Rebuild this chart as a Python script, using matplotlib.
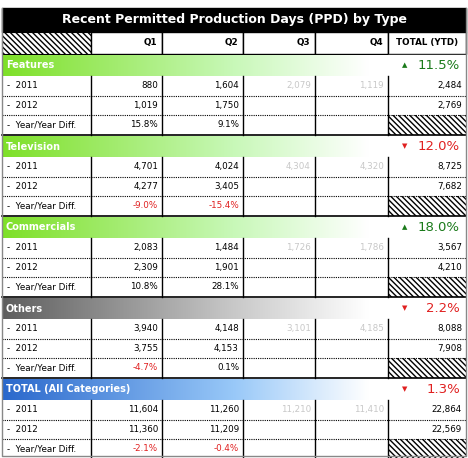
import matplotlib.pyplot as plt
import numpy as np
from matplotlib.patches import Rectangle
from matplotlib.colors import LinearSegmentedColormap, to_rgb

title = "Recent Permitted Production Days (PPD) by Type"
columns = ["Q1", "Q2", "Q3", "Q4", "TOTAL (YTD)"]
categories = ["Features", "Television", "Commercials", "Others", "TOTAL (All Categories)"]
change = ["11.5%", "12.0%", "18.0%", "2.2%", "1.3%"]
change_up = [True, False, True, False, False]
y2011 = [["880", "1,604", "2,079", "1,119", "2,484"],
         ["4,701", "4,024", "4,304", "4,320", "8,725"],
         ["2,083", "1,484", "1,726", "1,786", "3,567"],
         ["3,940", "4,148", "3,101", "4,185", "8,088"],
         ["11,604", "11,260", "11,210", "11,410", "22,864"]]
y2012 = [["1,019", "1,750", "", "", "2,769"],
         ["4,277", "3,405", "", "", "7,682"],
         ["2,309", "1,901", "", "", "4,210"],
         ["3,755", "4,153", "", "", "7,908"],
         ["11,360", "11,209", "", "", "22,569"]]
diffs = [["15.8%", "9.1%"], ["-9.0%", "-15.4%"], ["10.8%", "28.1%"],
         ["-4.7%", "0.1%"], ["-2.1%", "-0.4%"]]
header_colors = ["#7ee028", "#7ee028", "#7ee028", "#5e5e5e", "#2a68cc"]
mid_colors = ["#c8f8b8", "#c8f8b8", "#c8f8b8", "#c8c8c8", "#98c8f8"]

fig = plt.figure(figsize=(4.68, 4.58), dpi=100)
ax = fig.add_axes([0, 0, 1, 1])
ax.set_xlim(0, 468)
ax.set_ylim(458, 0)
ax.axis("off")

xs = [2, 91, 162, 243, 315, 388, 466]
fs = 6.3

# title bar
ax.add_patch(Rectangle((2, 8), 464, 24, color="black"))
ax.text(234, 20, title, color="white", fontsize=9, fontweight="bold", ha="center", va="center")

# column header row
ax.add_patch(Rectangle((xs[0], 32), xs[1] - xs[0], 22, facecolor="white",
                       edgecolor="black", hatch="\\\\\\\\\\\\", lw=0.8))
for i, c in enumerate(columns):
    ax.add_patch(Rectangle((xs[i + 1], 32), xs[i + 2] - xs[i + 1], 22, facecolor="white", edgecolor="black", lw=1))
    if i < 4:
        ax.text(xs[i + 2] - 5, 43, c, fontsize=fs, fontweight="bold", ha="right", va="center")
    else:
        ax.text((xs[i + 1] + xs[i + 2]) / 2, 43, c, fontsize=fs, fontweight="bold", ha="center", va="center")

sec_h = 81
row_h = 19.5
hdr_h = 21
for s, cat in enumerate(categories):
    top = 55 + s * sec_h
    cmap = LinearSegmentedColormap.from_list(
        "g", [(0, to_rgb(header_colors[s])), (0.6, to_rgb(mid_colors[s])), (0.95, (1, 1, 1)), (1, (1, 1, 1))])
    grad = np.linspace(0, 1, 256)[None, :]
    ax.imshow(grad, cmap=cmap, aspect="auto", extent=(2, 388, top + hdr_h, top), zorder=1)
    ax.add_patch(Rectangle((388, top), 78, hdr_h, color="white", zorder=1))
    ax.text(6, top + hdr_h / 2, cat, color="white", fontsize=7, fontweight="bold", va="center", zorder=2)
    ax.text(405, top + hdr_h / 2, "\u25B2" if change_up[s] else "\u25BC", fontsize=5,
            color="#1a7a1a" if change_up[s] else "#e02020", ha="center", va="center", zorder=2)
    ax.text(460, top + hdr_h / 2, change[s], fontsize=9.5,
            color="#1a7a1a" if change_up[s] else "#e02020", ha="right", va="center", zorder=2)

    rows = [("-  2011", y2011[s]), ("-  2012", y2012[s]),
            ("-  Year/Year Diff.", diffs[s] + ["", "", None])]
    for r, (lab, vals) in enumerate(rows):
        y0 = top + hdr_h + r * row_h
        yc = y0 + row_h / 2
        ax.text(7, yc, lab, fontsize=fs, va="center")
        for j, v in enumerate(vals):
            if v is None:
                ax.add_patch(Rectangle((xs[5], y0), xs[6] - xs[5], row_h, facecolor="white",
                                       edgecolor="black", hatch="\\\\\\\\\\\\", lw=0))
                continue
            color = "black"
            if r == 0 and j in (2, 3):
                color = "#c8c8c8"
            if r == 2 and v.startswith("-"):
                color = "#e02020"
            ax.text(xs[j + 2] - 4, yc, v, fontsize=fs, ha="right", va="center", color=color)
        if r < 2:
            ax.plot([2, 466], [y0 + row_h, y0 + row_h], color="black", lw=0.8, ls=(0, (1, 1)))
    y_end = top + hdr_h + 3 * row_h
    for x in xs[1:-1]:
        ax.plot([x, x], [top + hdr_h, y_end], color="black", lw=1)
    ax.plot([2, 466], [y_end, y_end], color="black", lw=1.2)

ax.plot([2, 2, 466, 466], [8, 456, 456, 8], color="#888888", lw=1)

fig.savefig("out.png", dpi=100)
